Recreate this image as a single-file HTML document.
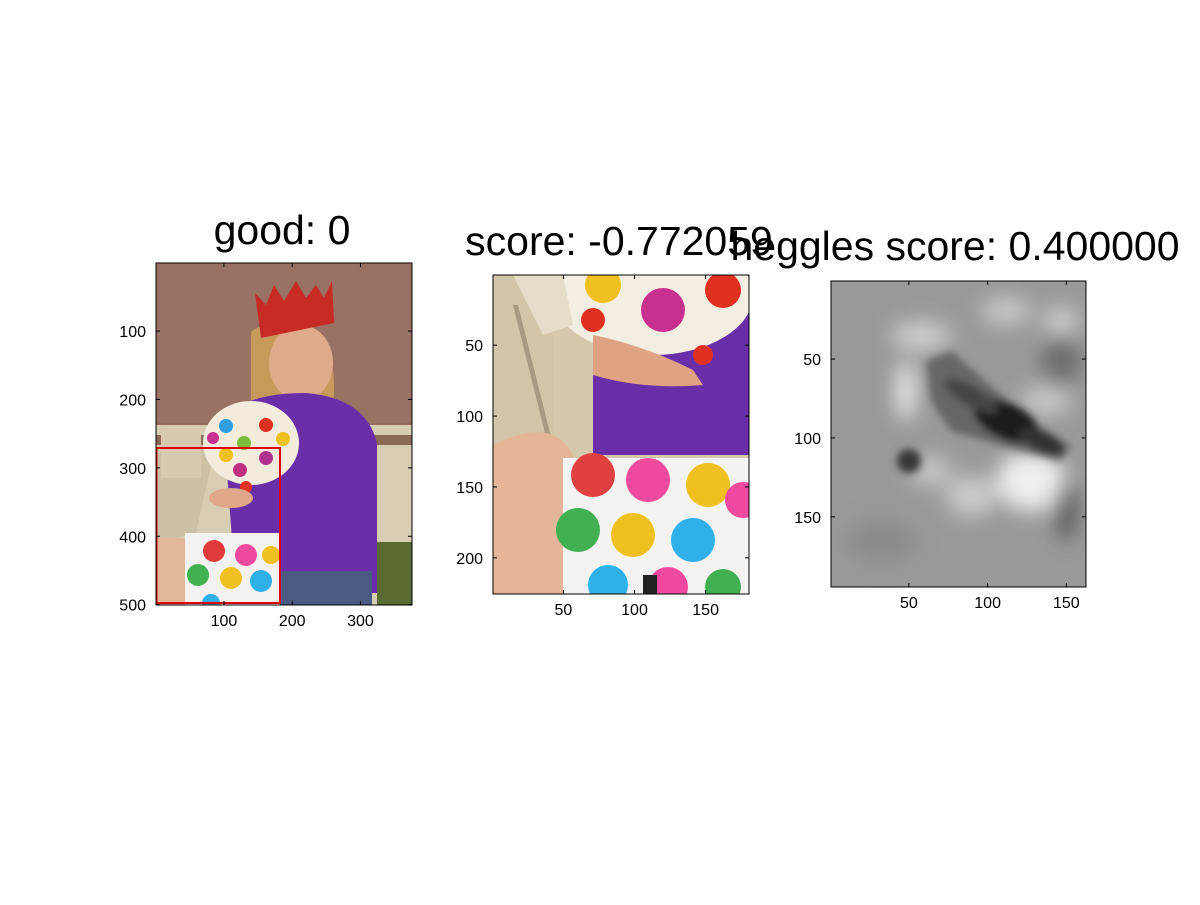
<!DOCTYPE html>
<html><head><meta charset="utf-8"><style>
body{margin:0;background:#fff;width:1200px;height:900px;overflow:hidden;font-family:"Liberation Sans",sans-serif}
svg text{font-family:"Liberation Sans",sans-serif}
</style></head><body>
<svg id="fig" width="1200" height="900" viewBox="0 0 1200 900">
<defs>
<filter id="b1" x="-50%" y="-50%" width="200%" height="200%"><feGaussianBlur stdDeviation="10"/></filter>
<filter id="b2" x="-50%" y="-50%" width="200%" height="200%"><feGaussianBlur stdDeviation="4"/></filter>
<clipPath id="c1"><rect x="0" y="0" width="256" height="342"/></clipPath>
<clipPath id="c2"><rect x="0" y="0" width="256" height="319"/></clipPath>
<clipPath id="c3"><rect x="0" y="0" width="255" height="306"/></clipPath>
</defs>

<!-- Panel 1 -->
<g transform="translate(156,263)">
<g clip-path="url(#c1)">
<rect width="256" height="342" fill="#946b5d"/>
<rect y="0" width="256" height="160" fill="#9a7264"/>
<rect y="162" width="256" height="180" fill="#d8cdb2"/>
<rect y="172" width="256" height="10" fill="#8a6a55"/>
<path d="M95,70 Q100,60 140,60 Q180,70 178,130 L175,175 L95,175 Z" fill="#c89a5a"/>
<ellipse cx="145" cy="100" rx="32" ry="38" fill="#e0ab8a"/>
<path d="M99,30 L110,42 L118,22 L128,38 L140,18 L150,35 L160,22 L168,35 L176,18 L178,60 L105,75 Z" fill="#c82a24"/>
<path d="M67,155 Q90,130 150,130 Q210,135 221,180 L221,330 L80,330 Z" fill="#6a2fa8"/>
<path d="M0,190 L0,280 L40,270 L60,180 Z" fill="#cdbfa3"/>
<ellipse cx="95" cy="180" rx="48" ry="42" fill="#f3ecdd"/>
<rect x="5" y="165" width="40" height="50" fill="#d9c9b0"/>
<circle cx="70" cy="163" r="7" fill="#2f9de0"/><circle cx="110" cy="162" r="7" fill="#e03020"/>
<circle cx="88" cy="180" r="7" fill="#7bbd3a"/><circle cx="127" cy="176" r="7" fill="#f0c020"/>
<circle cx="57" cy="175" r="6" fill="#c83090"/><circle cx="110" cy="195" r="7" fill="#b03090"/>
<circle cx="70" cy="192" r="7" fill="#f0c020"/><circle cx="84" cy="207" r="7" fill="#c03080"/>
<circle cx="90" cy="224" r="6" fill="#e03020"/>
<ellipse cx="75" cy="235" rx="22" ry="10" fill="#e0a888"/>
<rect x="124" y="308" width="92" height="40" fill="#4a5a80"/>
<rect x="221" y="279" width="40" height="70" fill="#5a6a30"/>
<rect x="0" y="275" width="40" height="70" fill="#e2b89a"/>
<rect x="29" y="270" width="95" height="75" fill="#f4f2f0"/>
<circle cx="58" cy="288" r="11" fill="#e03a3a"/><circle cx="90" cy="292" r="11" fill="#f04aa0"/>
<circle cx="42" cy="312" r="11" fill="#40b050"/><circle cx="75" cy="315" r="11" fill="#f0c020"/>
<circle cx="105" cy="318" r="11" fill="#30b0e8"/><circle cx="55" cy="340" r="9" fill="#30b0e8"/>
<circle cx="115" cy="292" r="9" fill="#f0c020"/>
</g>
<rect x="0.5" y="185" width="123.5" height="155" fill="none" stroke="#e00000" stroke-width="2"/>
<rect x="0" y="0" width="256" height="342" fill="none" stroke="#000" stroke-width="1"/>
</g>

<!-- Panel 2 -->
<g transform="translate(493,275)">
<g clip-path="url(#c2)">
<rect width="256" height="319" fill="#d5c8ad"/>
<rect x="100" y="0" width="156" height="180" fill="#6a2fa8"/>
<rect x="0" y="0" width="60" height="200" fill="#d3c6a8"/>
<path d="M20,30 L55,170 L60,170 L25,30 Z" fill="#a89a80"/>
<ellipse cx="160" cy="20" rx="100" ry="60" fill="#f4eee2"/>
<path d="M20,0 L70,0 L80,50 L50,60 Z" fill="#e6dcc8"/>
<circle cx="170" cy="35" r="22" fill="#c83090"/><circle cx="110" cy="10" r="18" fill="#f0c020"/>
<circle cx="100" cy="45" r="12" fill="#e03020"/><circle cx="230" cy="15" r="18" fill="#e03020"/>
<circle cx="210" cy="80" r="10" fill="#e03020"/>
<path d="M100,60 Q150,70 200,95 L210,110 Q150,115 100,100 Z" fill="#dfa282"/>
<path d="M0,170 Q60,140 80,180 L80,319 L0,319 Z" fill="#e4b596"/>
<rect x="70" y="183" width="186" height="136" fill="#f5f3f2"/>
<circle cx="100" cy="200" r="22" fill="#e04040"/><circle cx="155" cy="205" r="22" fill="#f04aa0"/>
<circle cx="215" cy="210" r="22" fill="#f0c020"/>
<circle cx="85" cy="255" r="22" fill="#40b050"/><circle cx="140" cy="260" r="22" fill="#f0c020"/>
<circle cx="200" cy="265" r="22" fill="#30b0e8"/><circle cx="250" cy="225" r="18" fill="#f04aa0"/>
<circle cx="115" cy="310" r="20" fill="#30b0e8"/><circle cx="175" cy="312" r="20" fill="#f04aa0"/>
<circle cx="230" cy="312" r="18" fill="#40b050"/>
<rect x="150" y="300" width="14" height="19" fill="#222"/>
</g>
<rect x="0" y="0" width="256" height="319" fill="none" stroke="#000"/>
</g>

<!-- Panel 3 -->
<g transform="translate(831,281)">
<g clip-path="url(#c3)">
<rect width="255" height="306" fill="#999"/>
<g filter="url(#b1)">
<ellipse cx="90" cy="55" rx="30" ry="14" fill="#d0d0d0"/>
<ellipse cx="175" cy="30" rx="25" ry="14" fill="#c8c8c8"/>
<ellipse cx="230" cy="40" rx="18" ry="14" fill="#cccccc"/>
<ellipse cx="75" cy="110" rx="10" ry="30" fill="#ececec"/>
<ellipse cx="200" cy="200" rx="35" ry="30" fill="#eeeeee"/>
<ellipse cx="140" cy="215" rx="25" ry="20" fill="#cccccc"/>
<ellipse cx="100" cy="190" rx="20" ry="15" fill="#c8c8c8"/>
<ellipse cx="215" cy="120" rx="25" ry="15" fill="#c8c8c8"/>
<ellipse cx="230" cy="80" rx="20" ry="25" fill="#6e6e6e"/>
<ellipse cx="235" cy="230" rx="10" ry="30" fill="#555"/>
<ellipse cx="50" cy="260" rx="35" ry="20" fill="#8a8a8a"/>
</g>
<g filter="url(#b2)">
<path d="M95,80 L120,70 L200,140 L240,165 L230,180 L190,170 L120,150 L100,120 Z" fill="#666"/>
<ellipse cx="175" cy="140" rx="35" ry="18" fill="#1e1e1e" transform="rotate(25 175 140)"/>
<ellipse cx="140" cy="115" rx="30" ry="10" fill="#444" transform="rotate(30 140 115)"/>
<circle cx="78" cy="180" r="12" fill="#383838"/>
<ellipse cx="210" cy="160" rx="25" ry="10" fill="#333" transform="rotate(25 210 160)"/>
</g>
</g>
<rect x="0" y="0" width="255" height="306" fill="none" stroke="#000"/>
</g>

<g id="axes" font-size="16" fill="#000"></g>
<text x="282" y="244" font-size="41" text-anchor="middle">good: 0</text>
<text x="619" y="255" font-size="41" text-anchor="middle">score: -0.772059</text>
<text x="955" y="260" font-size="41" text-anchor="middle">heggles score: 0.400000</text>
</svg>
<script>
const ticks1X=[100,200,300], ticks1Y=[100,200,300,400,500];
const ticks2X=[50,100,150], ticks2Y=[50,100,150,200];
const ticks3X=[50,100,150], ticks3Y=[50,100,150];
const panels=[
 {x0:156,y0:263,w:256,h:342,xmax:375,ymax:500,tx:ticks1X,ty:ticks1Y,n:'p1'},
 {x0:493,y0:275,w:256,h:319,xmax:180,ymax:225,tx:ticks2X,ty:ticks2Y,n:'p2'},
 {x0:831,y0:281,w:255,h:306,xmax:162,ymax:194,tx:ticks3X,ty:ticks3Y,n:'p3'}
];
const NS='http://www.w3.org/2000/svg';
const g=document.getElementById('axes');
function mk(t,a){const e=document.createElementNS(NS,t);for(const k in a)e.setAttribute(k,a[k]);g.appendChild(e);return e;}
panels.forEach(p=>{
 const sx=v=>p.x0+(v-0.5)*p.w/p.xmax, sy=v=>p.y0+(v-0.5)*p.h/p.ymax;
 p.tx.forEach(v=>{const x=sx(v);
  const l=mk('line',{x1:x,x2:x,y1:p.y0+p.h,y2:p.y0+p.h-4,stroke:'#000'});
  
  
  mk('line',{x1:x,x2:x,y1:p.y0,y2:p.y0+4,stroke:'#000'});
  const t=mk('text',{x:x,y:p.y0+p.h+21,'text-anchor':'middle'});t.textContent=v;
  
  });
 p.ty.forEach(v=>{const y=sy(v);
  const l=mk('line',{x1:p.x0,x2:p.x0+4,y1:y,y2:y,stroke:'#000'});
  
  
  mk('line',{x1:p.x0+p.w,x2:p.x0+p.w-4,y1:y,y2:y,stroke:'#000'});
  const t=mk('text',{x:p.x0-10,y:y+6,'text-anchor':'end'});t.textContent=v;
  
  });
});
</script>
</body></html>
